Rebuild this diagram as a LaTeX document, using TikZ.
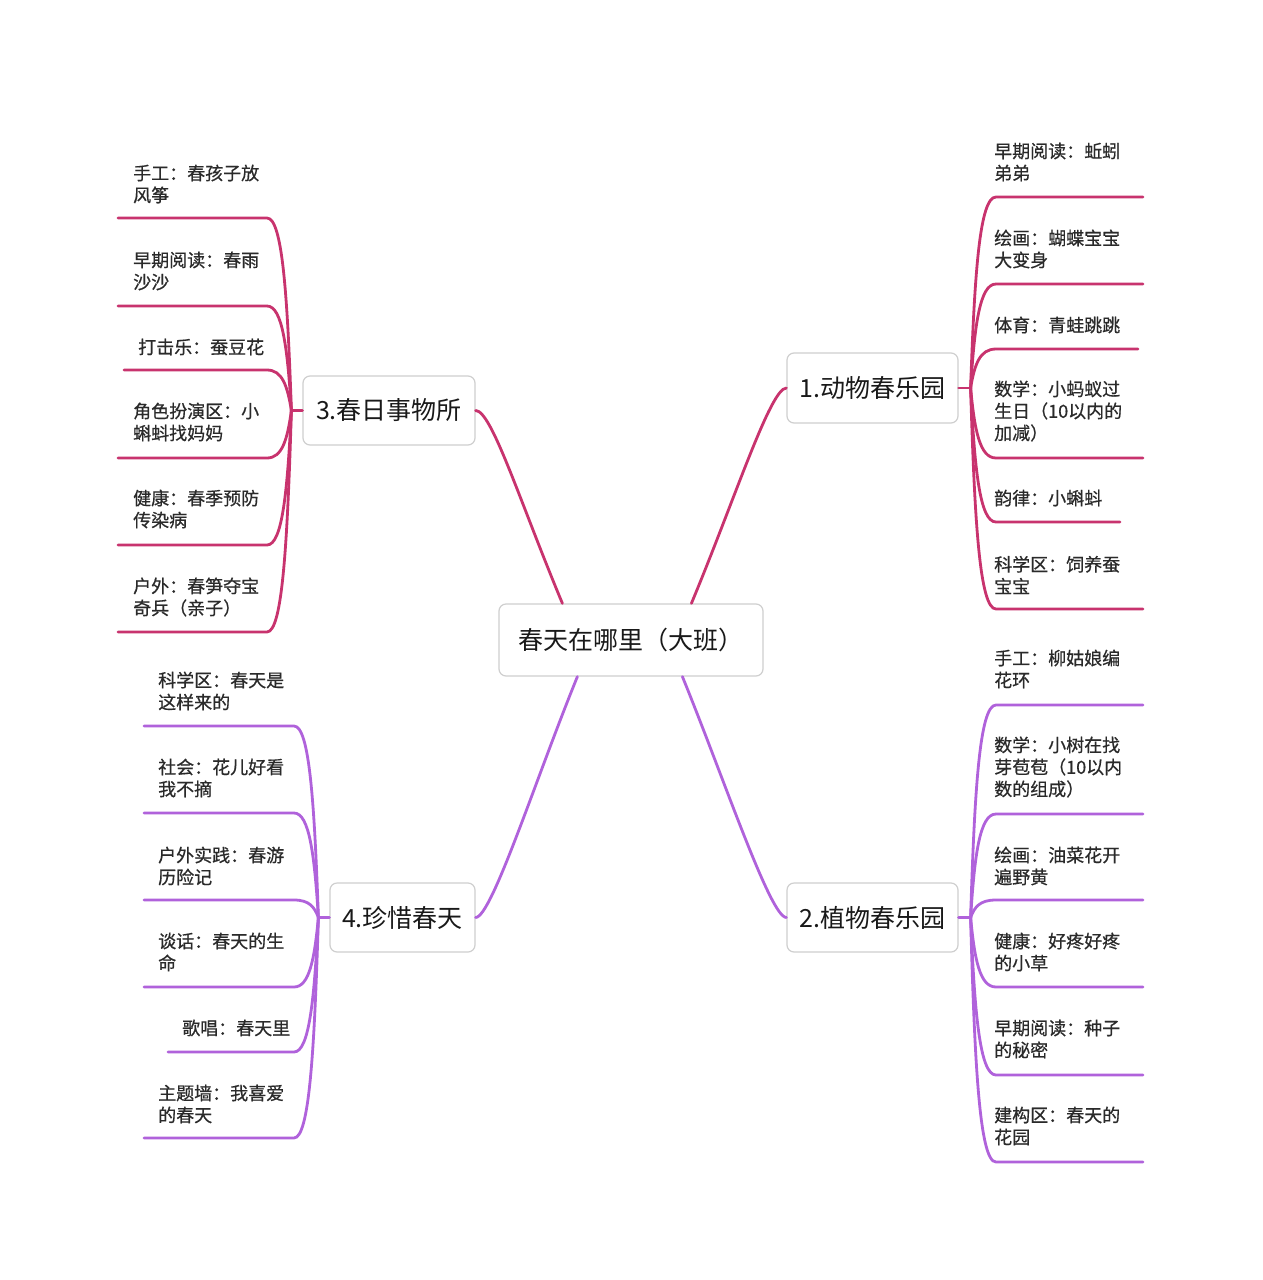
\documentclass[tikz,border=0pt]{standalone}
\usepackage{fontspec}
\newfontfamily\cjk{Noto Sans CJK SC}
\newfontfamily\cjkb{Noto Sans CJK SC}[FakeBold=0.6]
\usetikzlibrary{calc}
\definecolor{redb}{HTML}{C8336E}
\definecolor{purb}{HTML}{B062DB}
\definecolor{txtg}{HTML}{2A2A2A}
\definecolor{boxg}{HTML}{CFCFCF}
\tikzset{
  leaf/.style={font=\cjkb\fontsize{18}{22}\selectfont, text=txtg, align=left, inner sep=0pt, anchor=west},
  topicbox/.style={draw=boxg, line width=1.2pt, fill=white, rounded corners=7pt, inner sep=0pt,
    font=\cjk\fontsize{25}{30}\selectfont, text=black!90},
  redline/.style={draw=redb, line width=2.8pt, line cap=round},
  purline/.style={draw=purb, line width=2.8pt, line cap=round},
  rcurve/.style={to path={.. controls ($(\tikztostart)!0.6!(\tikztostart|-\tikztotarget)+(4,0)$) and ($(\tikztostart|-\tikztotarget)+(9,0)$) .. (\tikztotarget)}},
  lcurve/.style={to path={.. controls ($(\tikztostart)!0.6!(\tikztostart|-\tikztotarget)+(-4,0)$) and ($(\tikztostart|-\tikztotarget)+(-9,0)$) .. (\tikztotarget)}},
}
\begin{document}
\begin{tikzpicture}[x=1pt,y=-1pt]
\useasboundingbox (0,0) rectangle (1262,1280);
\fill[white] (0,0) rectangle (1262,1280);

% topic nodes
\node[topicbox, minimum width=264pt, minimum height=72pt] (C) at (631,640) {春天在哪里（大班）};
\node[topicbox, minimum width=171pt, minimum height=70pt] (T1) at (872.5,388) {1.动物春乐园};
\node[topicbox, minimum width=171pt, minimum height=69pt] (T2) at (872.5,917.5) {2.植物春乐园};
\node[topicbox, minimum width=172pt, minimum height=69pt] (T3) at (389,410.5) {3.春日事物所};
\node[topicbox, minimum width=145pt, minimum height=69pt] (T4) at (402.5,917.5) {4.珍惜春天};

% attachment points on the central node
\coordinate (k3) at ($(C.north west)+(64,0)$);
\coordinate (k1) at ($(C.north west)+(193,0)$);
\coordinate (k4) at ($(C.south west)+(79,0)$);
\coordinate (k2) at ($(C.south west)+(184,0)$);

\draw[redline] (T3.east) .. controls +(16,0) and +(-43,-103) .. (k3);
\draw[redline] (T1.west) .. controls +(-16,0) and +(43,-103) .. (k1);
\draw[purline] (T2.west) .. controls +(-16,0) and +(42,103) .. (k2);
\draw[purline] (T4.east) .. controls +(16,0) and +(-42,103) .. (k4);

% junctions
\coordinate (J1) at ($(T1.east)+(12,0)$);
\coordinate (J2) at ($(T2.east)+(12,0)$);
\coordinate (J3) at ($(T3.west)+(-11,0)$);
\coordinate (J4) at ($(T4.west)+(-11,0)$);
\draw[redline] (T1.east) -- (J1);
\draw[purline] (T2.east) -- (J2);
\draw[redline] (T3.west) -- (J3);
\draw[purline] (T4.west) -- (J4);

% topic 1 leaves
\foreach \n/\x/\y/\u/\e/\t in {
  a1/994/162/197/1143/{早期阅读：蚯蚓\\弟弟},
  a2/994/249/284/1143/{绘画：蝴蝶宝宝\\大变身},
  a3/994/325/349/1138/{体育：青蛙跳跳},
  a4/994/411/458/1143/{数学：小蚂蚁过\\生日（10以内的\\加减）},
  a5/994/498/522/1120/{韵律：小蝌蚪},
  a6/994/575/609/1143/{科学区：饲养蚕\\宝宝}}{
  \node[leaf] (\n) at (\x,\y) {\t};
  \coordinate (\n s) at (996,\u);
  \coordinate (\n e) at (\e,\u);
  \draw[redline] (J1) to[rcurve] (\n s) -- (\n e);
}

% topic 2 leaves
\foreach \n/\x/\y/\u/\e/\t in {
  b1/994/669/705/1143/{手工：柳姑娘编\\花环},
  b2/994/767/814/1143/{数学：小树在找\\芽苞苞（10以内\\数的组成）},
  b3/994/866/900/1143/{绘画：油菜花开\\遍野黄},
  b4/994/952/987/1143/{健康：好疼好疼\\的小草},
  b5/994/1039/1075/1143/{早期阅读：种子\\的秘密},
  b6/994/1126/1162/1143/{建构区：春天的\\花园}}{
  \node[leaf] (\n) at (\x,\y) {\t};
  \coordinate (\n s) at (996,\u);
  \coordinate (\n e) at (\e,\u);
  \draw[purline] (J2) to[rcurve] (\n s) -- (\n e);
}

% topic 3 leaves
\foreach \n/\x/\y/\u/\e/\t in {
  c1/133/184/218/118/{手工：春孩子放\\风筝},
  c2/133/271/306/118/{早期阅读：春雨\\沙沙},
  c3/138/347/370/124/{打击乐：蚕豆花},
  c4/133/422/458/118/{角色扮演区：小\\蝌蚪找妈妈},
  c5/133/509/545/118/{健康：春季预防\\传染病},
  c6/133/597/632/118/{户外：春笋夺宝\\奇兵（亲子）}}{
  \node[leaf] (\n) at (\x,\y) {\t};
  \coordinate (\n s) at (267,\u);
  \coordinate (\n e) at (\e,\u);
  \draw[redline] (J3) to[lcurve] (\n s) -- (\n e);
}

% topic 4 leaves
\foreach \n/\x/\y/\u/\e/\t in {
  d1/158/691/726/144/{科学区：春天是\\这样来的},
  d2/158/778/813/144/{社会：花儿好看\\我不摘},
  d3/158/866/900/144/{户外实践：春游\\历险记},
  d4/158/952/987/144/{谈话：春天的生\\命},
  d5/182/1028/1052/168/{歌唱：春天里},
  d6/158/1104/1138/144/{主题墙：我喜爱\\的春天}}{
  \node[leaf] (\n) at (\x,\y) {\t};
  \coordinate (\n s) at (294,\u);
  \coordinate (\n e) at (\e,\u);
  \draw[purline] (J4) to[lcurve] (\n s) -- (\n e);
}
\end{tikzpicture}
\end{document}
